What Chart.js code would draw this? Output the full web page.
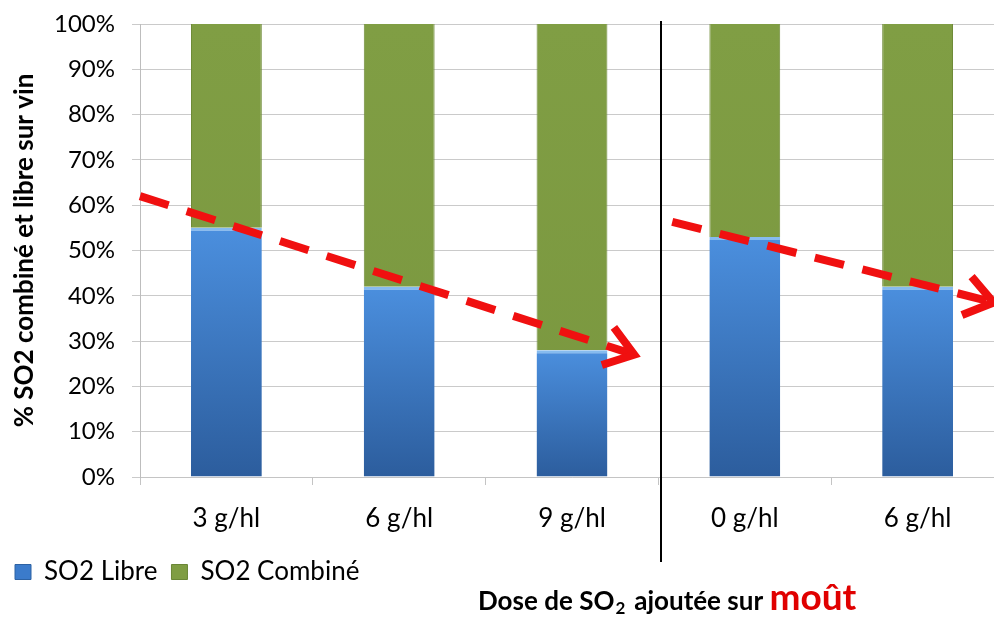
<!DOCTYPE html>
<html>
<head>
<meta charset="utf-8">
<script src="https://cdn.jsdelivr.net/npm/chart.js@4.4.1/dist/chart.umd.min.js"></script>
<style>
  html, body { margin: 0; padding: 0; background: #fff; overflow: hidden; }
  #wrap { position: absolute; left: 0; top: 0; width: 1004px; height: 617px; }
</style>
</head>
<body>
<div id="wrap"><canvas id="c" width="1004" height="617"></canvas></div>
<script>
// Doses of SO2 added on the must (g/hl)
const categories = ['3 g/hl', '6 g/hl', '9 g/hl', '0 g/hl', '6 g/hl'];
// Share of free and bound SO2 in the wine (%)
const so2Libre   = [55, 42, 28, 53, 42];
const so2Combine = [45, 58, 72, 47, 58];
const yTicks = [0, 10, 20, 30, 40, 50, 60, 70, 80, 90, 100];
// Trend arrows in data space: [xFrom, yFrom, xTo, yTo] (category index, %)
const trendArrows = [
  [-0.5, 62, 2.36, 27],
  [2.58, 56.3, 4.44, 38.5]
];
// Group separator sits between these two categories
const separatorAfter = 2;

const FONT = 'Lato, "Open Sans", sans-serif';

function blueFill(ctx) {
  const chart = ctx.chart;
  const area = chart.chartArea;
  if (!area || ctx.parsed === undefined) return '#3D7CCB';
  const y = chart.scales.y;
  const top = y.getPixelForValue(ctx.parsed.y);
  const bottom = y.getPixelForValue(0);
  const g = chart.ctx.createLinearGradient(0, top, 0, bottom);
  g.addColorStop(0, '#4B8FDE');
  g.addColorStop(1, '#2C5D9D');
  return g;
}
function greenFill(ctx) {
  const chart = ctx.chart;
  const area = chart.chartArea;
  if (!area) return '#7F9D43';
  const g = chart.ctx.createLinearGradient(0, area.top, 0, area.bottom);
  g.addColorStop(0, '#809E44');
  g.addColorStop(1, '#7A973F');
  return g;
}

const overlay = {
  id: 'overlay',
  afterDatasetsDraw(chart) {
    const c = chart.ctx;
    const xs = chart.scales.x, ys = chart.scales.y;
    const area = chart.chartArea;
    // separator between the two dose groups
    const sx = Math.round((xs.getPixelForValue(separatorAfter) + xs.getPixelForValue(separatorAfter + 1)) / 2) + 3;
    c.save();
    c.strokeStyle = '#000';
    c.lineWidth = 2;
    c.beginPath();
    c.moveTo(sx, area.top - 3);
    c.lineTo(sx, 562);
    c.stroke();
    c.restore();

    // dashed red trend arrows
    const toPx = (xv, yv) => {
      const p0 = xs.getPixelForValue(0), p1 = xs.getPixelForValue(1);
      return [p0 + (p1 - p0) * xv, ys.getPixelForValue(yv)];
    };
    trendArrows.forEach(a => {
      const [x1, y1] = toPx(a[0], a[1]);
      const [x2, y2] = toPx(a[2], a[3]);
      c.save();
      c.strokeStyle = '#F01010';
      c.lineWidth = 8;
      c.setLineDash([30, 19]);
      c.beginPath();
      c.moveTo(x1, y1);
      c.lineTo(x2 - 4, y2 - 1.3);
      c.stroke();
      c.setLineDash([]);
      const ang = Math.atan2(y2 - y1, x2 - x1);
      const len = 34, spread = 0.62;
      c.lineJoin = 'miter';
      c.beginPath();
      c.moveTo(x2 - len * Math.cos(ang - spread), y2 - len * Math.sin(ang - spread));
      c.lineTo(x2, y2);
      c.lineTo(x2 - len * Math.cos(ang + spread), y2 - len * Math.sin(ang + spread));
      c.stroke();
      c.restore();
    });
  },
  afterDraw(chart) {
    // axis caption below the legend
    const c = chart.ctx;
    const base = 610;
    let x = 478;
    c.save();
    c.textBaseline = 'alphabetic';
    c.textAlign = 'left';
    c.fillStyle = '#000';
    c.font = 'bold 26px ' + FONT;
    c.fillText('Dose de SO', x, base);
    x += c.measureText('Dose de SO').width;
    c.font = 'bold 17px ' + FONT;
    c.fillText('2', x + 1, base + 4);
    x += c.measureText('2').width + 10;
    c.font = 'bold 26px ' + FONT;
    c.fillText('ajoutée sur ', x, base);
    x += c.measureText('ajoutée sur ').width;
    c.fillStyle = '#E00000';
    c.font = 'bold 37px ' + FONT;
    c.fillText('moût', x, base);
    c.restore();
  }
};

new Chart(document.getElementById('c'), {
  type: 'bar',
  data: {
    labels: categories,
    datasets: [
      {
        label: 'SO2 Libre',
        data: so2Libre,
        backgroundColor: blueFill,
        borderColor: '#86BBEF',
        borderWidth: { top: 3, left: 0, right: 0, bottom: 0 },
        borderSkipped: false,
        barPercentage: 0.82,
        categoryPercentage: 0.5
      },
      {
        label: 'SO2 Combiné',
        data: so2Combine,
        backgroundColor: greenFill,
        borderColor: '#6F8B38',
        borderWidth: { top: 0, left: 1, right: 1, bottom: 0 },
        borderSkipped: false,
        barPercentage: 0.82,
        categoryPercentage: 0.5
      }
    ]
  },
  options: {
    responsive: false,
    animation: false,
    layout: { padding: { left: 1, right: 0, top: 24, bottom: 22 } },
    plugins: {
      tooltip: { enabled: false },
      legend: {
        position: 'bottom',
        align: 'start',
        labels: {
          color: '#000',
          font: { family: FONT, size: 26 },
          boxWidth: 16,
          boxHeight: 15,
          padding: 14,
          generateLabels() {
            return [
              { text: 'SO2 Libre', fillStyle: '#3B7BCB', strokeStyle: '#2D62A3', lineWidth: 1, datasetIndex: 0 },
              { text: 'SO2 Combiné', fillStyle: '#7F9D43', strokeStyle: '#6A8636', lineWidth: 1, datasetIndex: 1 }
            ];
          }
        }
      }
    },
    scales: {
      x: {
        stacked: true,
        grid: { offset: true, drawOnChartArea: false, drawTicks: true, tickLength: 8, color: '#C4C4C4' },
        border: { display: true, color: '#C4C4C4' },
        ticks: { color: '#000', font: { family: FONT, size: 26 }, padding: 18 },
        afterFit(scale) { scale.height = 68; }
      },
      y: {
        stacked: true,
        min: 0,
        max: 100,
        afterBuildTicks(scale) { scale.ticks = yTicks.map(v => ({ value: v })); },
        grid: { color: '#CACACA', tickLength: 8 },
        border: { display: true, color: '#BDBDBD' },
        ticks: { color: '#000', font: { family: FONT, size: 24 }, padding: 17, callback: v => v + '%' },
        title: {
          display: true,
          text: '% SO2 combiné et libre sur vin',
          color: '#000',
          font: { family: FONT, size: 26, weight: 'bold' },
          padding: { top: 8, bottom: 0 }
        },
        afterFit(scale) {
          scale.width = 139;
          scale.paddingTop = 0;
          scale.paddingBottom = 0;
        }
      }
    }
  },
  plugins: [overlay]
});
</script>
</body>
</html>
